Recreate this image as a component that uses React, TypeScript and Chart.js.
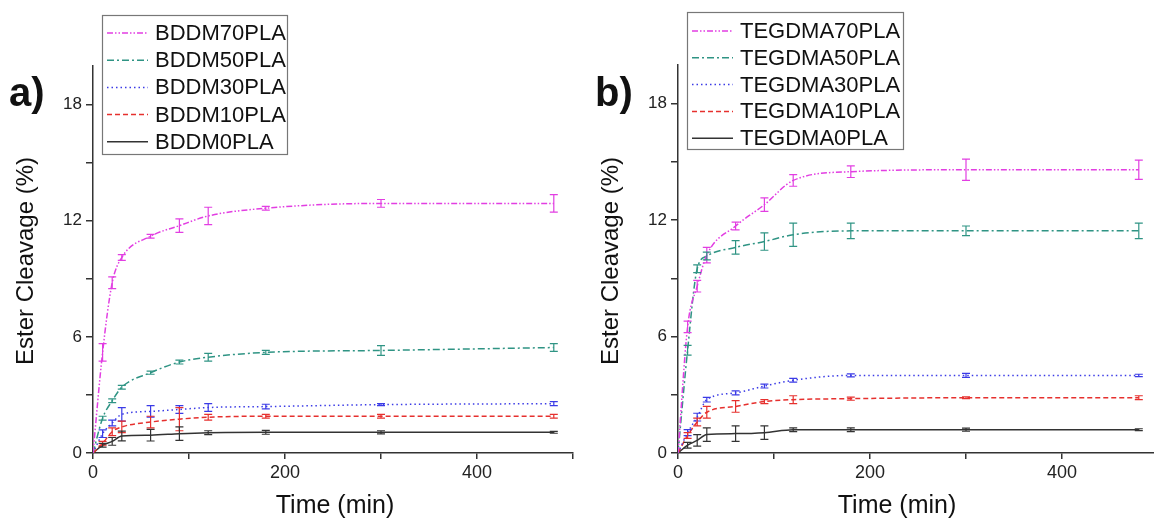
import React, { useEffect, useRef } from 'react';
import { Chart, registerables } from 'chart.js';
Chart.register(...registerables);

const FONT = '"Liberation Sans", Arial, sans-serif';

const times = [0, 10, 20, 30, 60, 90, 120, 180, 300, 480];
const xTicks = [0, 100, 200, 300, 400, 500];
const xLabelTicks = [0, 200, 400];
const yTicks = [0, 3, 6, 9, 12, 15, 18];
const yLabelTicks = [0, 6, 12, 18];

const xTitleText = 'Time (min)';
const yTitleText = 'Ester Cleavage (%)';

const seriesNamesA = ['BDDM70PLA', 'BDDM50PLA', 'BDDM30PLA', 'BDDM10PLA', 'BDDM0PLA'];
const bddm70 = [0, 5.2, 8.8, 10.1, 11.2, 11.75, 12.25, 12.65, 12.9, 12.9];
const bddm70Err = [0, 0.45, 0.3, 0.15, 0.1, 0.35, 0.45, 0.1, 0.2, 0.45];
const bddm50 = [0, 1.8, 2.7, 3.4, 4.15, 4.7, 4.95, 5.2, 5.3, 5.45];
const bddm50Err = [0, 0.1, 0.1, 0.1, 0.08, 0.1, 0.2, 0.1, 0.25, 0.2];
const bddm30 = [0, 1.0, 1.55, 2.0, 2.15, 2.25, 2.35, 2.4, 2.5, 2.55];
const bddm30Err = [0, 0.2, 0.15, 0.35, 0.3, 0.2, 0.2, 0.12, 0.05, 0.1];
const bddm10 = [0, 0.5, 1.1, 1.35, 1.6, 1.75, 1.85, 1.9, 1.9, 1.9];
const bddm10Err = [0, 0.1, 0.2, 0.3, 0.3, 0.6, 0.15, 0.1, 0.1, 0.1];
const bddm0 = [0, 0.4, 0.6, 0.88, 0.92, 1.0, 1.05, 1.07, 1.07, 1.07];
const bddm0Err = [0, 0.1, 0.2, 0.25, 0.3, 0.35, 0.1, 0.1, 0.08, 0.05];

const seriesNamesB = ['TEGDMA70PLA', 'TEGDMA50PLA', 'TEGDMA30PLA', 'TEGDMA10PLA', 'TEGDMA0PLA'];
const tegdma70 = [0, 6.5, 8.6, 10.2, 11.7, 12.8, 14.05, 14.5, 14.6, 14.6];
const tegdma70Err = [0, 0.3, 0.3, 0.4, 0.2, 0.35, 0.3, 0.3, 0.55, 0.5];
const tegdma50 = [0, 5.3, 9.5, 10.15, 10.6, 10.9, 11.25, 11.45, 11.45, 11.45];
const tegdma50Err = [0, 0.25, 0.2, 0.2, 0.35, 0.45, 0.6, 0.4, 0.25, 0.4];
const tegdma30 = [0, 1.05, 1.85, 2.75, 3.1, 3.45, 3.75, 4.0, 4.0, 4.0];
const tegdma30Err = [0, 0.15, 0.2, 0.12, 0.1, 0.1, 0.1, 0.08, 0.1, 0.06];
const tegdma10 = [0, 0.9, 1.6, 2.1, 2.4, 2.65, 2.75, 2.8, 2.85, 2.85];
const tegdma10Err = [0, 0.15, 0.2, 0.3, 0.3, 0.1, 0.2, 0.08, 0.05, 0.1];
const tegdma0 = [0, 0.4, 0.65, 0.95, 1.0, 1.05, 1.2, 1.2, 1.2, 1.2];
const tegdma0Err = [0, 0.15, 0.3, 0.35, 0.4, 0.35, 0.1, 0.1, 0.08, 0.05];

const colors = ['#e23ee2', '#2f9484', '#3b3be6', '#e6302e', '#333333'];
const dashes = [[6, 2, 1.5, 2, 1.5, 2], [7, 3, 2, 3], [1.5, 3], [5, 3], []];

type PanelCfg = {
  names: string[];
  values: number[][];
  errors: number[][];
  panelLabel: string;
  canvasLeft: number;
  canvasWidth: number;
  axisLeft: number;
  padRight: number;
  padTop: number;
  labelPos: [number, number];
  xTitlePos: [number, number];
  yTitlePos: [number, number];
  legendBox: [number, number, number, number];
  legendLine: [number, number];
  legendTextX: number;
  legendRowY: number;
  legendRowGap: number;
};

const panels: PanelCfg[] = [
  {
    names: seriesNamesA,
    values: [bddm70, bddm50, bddm30, bddm10, bddm0],
    errors: [bddm70Err, bddm50Err, bddm30Err, bddm10Err, bddm0Err],
    panelLabel: 'a)',
    canvasLeft: 0,
    canvasWidth: 580,
    axisLeft: 93,
    padRight: 7,
    padTop: 66,
    labelPos: [9, 106],
    xTitlePos: [335, 506],
    yTitlePos: [26, 261],
    legendBox: [102, 15, 287, 154],
    legendLine: [107, 148],
    legendTextX: 155,
    legendRowY: 33,
    legendRowGap: 27.2,
  },
  {
    names: seriesNamesB,
    values: [tegdma70, tegdma50, tegdma30, tegdma10, tegdma0],
    errors: [tegdma70Err, tegdma50Err, tegdma30Err, tegdma10Err, tegdma0Err],
    panelLabel: 'b)',
    canvasLeft: 577,
    canvasWidth: 585,
    axisLeft: 101,
    padRight: 4,
    padTop: 65,
    labelPos: [18, 106],
    xTitlePos: [320, 506],
    yTitlePos: [34, 261],
    legendBox: [110, 12, 326, 149],
    legendLine: [115, 156],
    legendTextX: 163,
    legendRowY: 31,
    legendRowGap: 26.8,
  },
];

function makePlugin(p: PanelCfg) {
  return {
    id: 'deco',
    afterDatasetsDraw(chart: any) {
      const ctx = chart.ctx;
      const xs = chart.scales.x;
      const ys = chart.scales.y;
      chart.data.datasets.forEach((ds: any, i: number) => {
        const errs = p.errors[i];
        ctx.save();
        ctx.strokeStyle = ds.borderColor;
        ctx.lineWidth = 1.2;
        ctx.setLineDash([]);
        p.values[i].forEach((v, j) => {
          const e = errs[j];
          if (!e) return;
          const x = xs.getPixelForValue(times[j]);
          const y1 = ys.getPixelForValue(v - e);
          const y2 = ys.getPixelForValue(v + e);
          ctx.beginPath();
          ctx.moveTo(x, y1);
          ctx.lineTo(x, y2);
          ctx.moveTo(x - 4, y1);
          ctx.lineTo(x + 4, y1);
          ctx.moveTo(x - 4, y2);
          ctx.lineTo(x + 4, y2);
          ctx.stroke();
        });
        ctx.restore();
      });
    },
    afterDraw(chart: any) {
      const ctx = chart.ctx;
      ctx.save();
      const [bx1, by1, bx2, by2] = p.legendBox;
      ctx.strokeStyle = '#777';
      ctx.lineWidth = 1.2;
      ctx.setLineDash([]);
      ctx.fillStyle = '#fff';
      ctx.fillRect(bx1, by1, bx2 - bx1, by2 - by1);
      ctx.strokeRect(bx1 + 0.5, by1 + 0.5, bx2 - bx1, by2 - by1);
      p.names.forEach((name, i) => {
        const y = p.legendRowY + i * p.legendRowGap;
        ctx.strokeStyle = colors[i];
        ctx.lineWidth = 1.5;
        ctx.setLineDash(dashes[i]);
        ctx.beginPath();
        ctx.moveTo(p.legendLine[0], y);
        ctx.lineTo(p.legendLine[1], y);
        ctx.stroke();
        ctx.setLineDash([]);
        ctx.fillStyle = '#111';
        ctx.font = `22px ${FONT}`;
        ctx.textBaseline = 'middle';
        ctx.textAlign = 'left';
        ctx.fillText(name, p.legendTextX, y + 1);
      });
      ctx.fillStyle = '#111';
      ctx.font = `bold 40px ${FONT}`;
      ctx.textBaseline = 'alphabetic';
      ctx.textAlign = 'left';
      ctx.fillText(p.panelLabel, p.labelPos[0], p.labelPos[1]);
      ctx.font = `25px ${FONT}`;
      ctx.textAlign = 'center';
      ctx.textBaseline = 'middle';
      ctx.fillText(xTitleText, p.xTitlePos[0], p.xTitlePos[1]);
      ctx.translate(p.yTitlePos[0], p.yTitlePos[1]);
      ctx.rotate(-Math.PI / 2);
      ctx.font = `24px ${FONT}`;
      ctx.fillText(yTitleText, 0, 0);
      ctx.restore();
    },
  };
}

function Panel({ cfg }: { cfg: PanelCfg }) {
  const ref = useRef<HTMLCanvasElement | null>(null);
  useEffect(() => {
    if (!ref.current) return;
    const chart = new Chart(ref.current, {
      type: 'line',
      data: {
        datasets: cfg.names.map((name, i) => ({
          label: name,
          data: times.map((t, j) => ({ x: t, y: cfg.values[i][j] })),
          borderColor: colors[i],
          backgroundColor: colors[i],
          borderWidth: 1.5,
          borderDash: dashes[i],
          pointRadius: 0,
          fill: false,
          cubicInterpolationMode: 'monotone',
        })),
      },
      options: {
        animation: false,
        responsive: false,
        layout: { padding: { top: cfg.padTop, right: cfg.padRight, left: 0, bottom: 0 } },
        plugins: { legend: { display: false }, tooltip: { enabled: false } },
        scales: {
          x: {
            type: 'linear',
            min: 0,
            max: 500,
            afterBuildTicks: (s: any) => {
              s.ticks = xTicks.map((v) => ({ value: v }));
            },
            afterFit: (s: any) => {
              s.height = 69;
            },
            ticks: {
              autoSkip: false,
              maxRotation: 0,
              padding: 3,
              color: '#222',
              font: { family: FONT, size: 18 },
              callback: (v: any) => (xLabelTicks.includes(Number(v)) ? String(v) : ''),
            },
            grid: { drawOnChartArea: false, drawTicks: true, tickLength: 6, color: '#333', lineWidth: 1.5 },
            border: { display: true, color: '#333', width: 1.5 },
          },
          y: {
            type: 'linear',
            min: 0,
            max: 20,
            afterBuildTicks: (s: any) => {
              s.ticks = yTicks.map((v) => ({ value: v }));
            },
            afterFit: (s: any) => {
              s.width = cfg.axisLeft;
            },
            ticks: {
              autoSkip: false,
              padding: 4,
              color: '#222',
              font: { family: FONT, size: 17 },
              callback: (v: any) => (yLabelTicks.includes(Number(v)) ? String(v) : ''),
            },
            grid: { drawOnChartArea: false, drawTicks: true, tickLength: 7, color: '#333', lineWidth: 1.5 },
            border: { display: true, color: '#333', width: 1.5 },
          },
        },
      } as any,
      plugins: [makePlugin(cfg)],
    } as any);
    return () => chart.destroy();
  }, [cfg]);
  return (
    <canvas
      ref={ref}
      width={cfg.canvasWidth}
      height={522}
      style={{ position: 'absolute', left: cfg.canvasLeft, top: 0, width: cfg.canvasWidth, height: 522 }}
    />
  );
}

export default function App() {
  return (
    <div
      style={{
        position: 'fixed',
        left: 0,
        top: 0,
        width: 1154,
        height: 522,
        overflow: 'hidden',
        background: '#fff',
      }}
    >
      {panels.map((p) => (
        <Panel key={p.panelLabel} cfg={p} />
      ))}
    </div>
  );
}
